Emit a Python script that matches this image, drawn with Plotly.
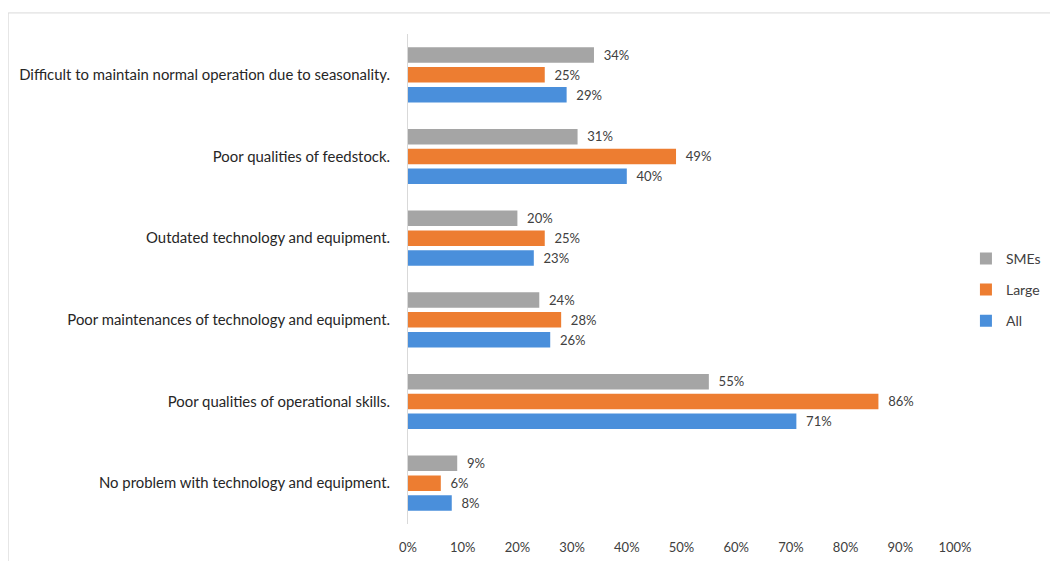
import plotly.graph_objects as go

categories = [
    "Difficult to maintain normal operation due to seasonality.",
    "Poor qualities of feedstock.",
    "Outdated technology and equipment.",
    "Poor maintenances of technology and equipment.",
    "Poor qualities of operational skills.",
    "No problem with technology and equipment.",
]
smes = [0.34, 0.31, 0.20, 0.24, 0.55, 0.09]
large = [0.25, 0.49, 0.25, 0.28, 0.86, 0.06]
all_ = [0.29, 0.40, 0.23, 0.26, 0.71, 0.08]
tick_vals = [0, 0.1, 0.2, 0.3, 0.4, 0.5, 0.6, 0.7, 0.8, 0.9, 1.0]
tick_text = ["0%", "10%", "20%", "30%", "40%", "50%", "60%", "70%", "80%", "90%", "100%"]

series = [("SMEs", smes, "#A5A5A5"), ("Large", large, "#ED7D31"), ("All", all_, "#4A8FDB")]

FONT = "Lato"
fig = go.Figure()
for name, vals, color in series:
    fig.add_trace(go.Bar(
        y=categories, x=vals, name=name, orientation="h", legendgroup=name,
        marker=dict(color=color, line=dict(width=0)),
        text=["\u00a0\u00a0" + f"{round(v*100)}%" for v in vals], textposition="outside",
        textfont=dict(size=13.5, color="#404040", family=FONT),
        cliponaxis=False,
    ))

fig.update_layout(
    width=1050, height=553,
    margin=dict(l=400, r=103, t=26, b=37, autoexpand=False),
    barmode="group", bargap=0.27, bargroupgap=0.22,
    plot_bgcolor="white", paper_bgcolor="white",
    font=dict(family=FONT, size=14, color="#404040"),
    legend=dict(x=1.02, y=0.478, yanchor="middle", xanchor="left",
                font=dict(size=14, color="#404040"), itemwidth=30,
                traceorder="grouped", tracegroupgap=10),
    xaxis=dict(range=[0, 1.0], tickvals=tick_vals, ticktext=tick_text,
               showgrid=False, zeroline=False, showline=False,
               tickfont=dict(size=13, color="#404040"), ticklen=0,
               ticklabelstandoff=14),
    yaxis=dict(autorange="reversed", showgrid=False, showline=True,
               linecolor="#D9D9D9", linewidth=1, ticks="", ticklen=0,
               ticklabelstandoff=14,
               tickfont=dict(size=14.9, color="#262626")),
    shapes=[dict(type="rect", xref="paper", yref="paper",
                 x0=-0.731, x1=2.0, y0=-0.3, y1=1.043,
                 line=dict(color="#D9D9D9", width=1), fillcolor="rgba(0,0,0,0)",
                 layer="below")],
)
fig.write_html("out.html")
